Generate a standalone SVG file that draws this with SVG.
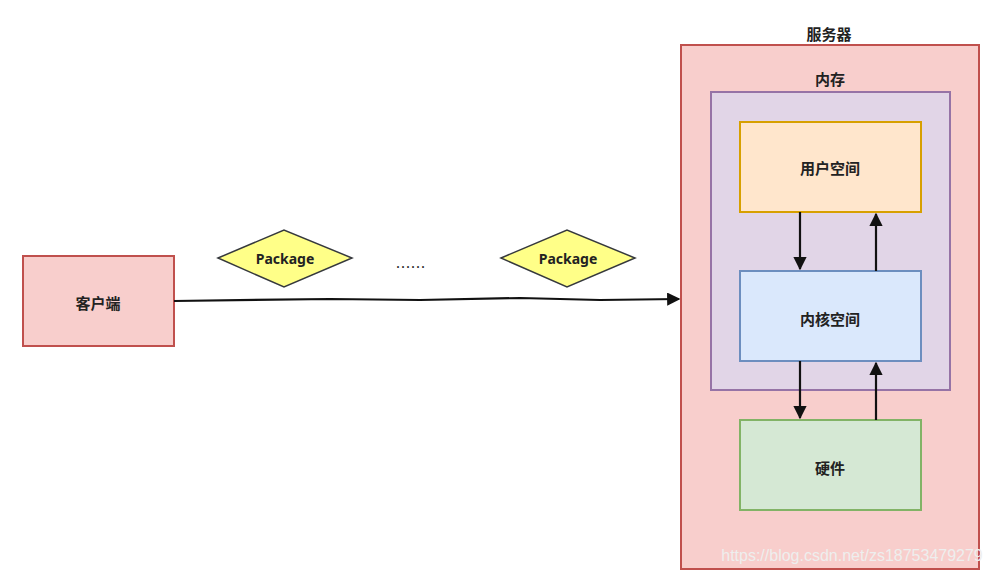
<svg xmlns="http://www.w3.org/2000/svg" width="993" height="578" viewBox="0 0 993 578">
<style>
.lbl{font-family:"Noto Sans CJK SC","Noto Sans",sans-serif;font-size:15px;font-weight:bold;fill:#222;text-anchor:middle;dominant-baseline:central}
.pkg{font-family:"Noto Sans","DejaVu Sans",sans-serif;font-size:14px;font-weight:bold;fill:#222;text-anchor:middle;dominant-baseline:central}
.box{stroke-width:2}
.edge{stroke:#111;stroke-width:2.2;fill:none}
</style>
<defs>
<marker id="ah" viewBox="0 0 10 10" refX="9" refY="5" markerWidth="6" markerHeight="6" orient="auto" markerUnits="strokeWidth">
<path d="M0,0 L10,5 L0,10 z" fill="#111"/>
</marker>
</defs>
<rect width="993" height="578" fill="#fff"/>
<g id="server">
<rect class="box" x="681" y="45" width="298" height="524" fill="#f8cecc" stroke="#c0504d"/>
<text class="lbl" x="829" y="33">服务器</text>
</g>
<g id="memory">
<rect class="box" x="711" y="92" width="239" height="298" fill="#e1d5e7" stroke="#9673a6"/>
<text class="lbl" x="830" y="78">内存</text>
</g>
<g id="userspace">
<rect class="box" x="740" y="122" width="181" height="90" fill="#ffe6cc" stroke="#d7a000"/>
<text class="lbl" x="830" y="167">用户空间</text>
</g>
<g id="kernel">
<rect class="box" x="740" y="271" width="181" height="90" fill="#dae8fc" stroke="#6c8ebf"/>
<text class="lbl" x="830" y="318">内核空间</text>
</g>
<g id="hardware">
<rect class="box" x="740" y="420" width="181" height="90" fill="#d5e8d4" stroke="#82b366"/>
<text class="lbl" x="830" y="467">硬件</text>
</g>
<g id="client">
<rect class="box" x="23" y="256" width="151" height="90" fill="#f8cecc" stroke="#c0504d"/>
<text class="lbl" x="98" y="302">客户端</text>
</g>
<g id="package1">
<polygon points="218,258 284,230 352,258 284,287" fill="#ffff88" stroke="#36393d" stroke-width="1.5"/>
<text class="pkg" x="285" y="258">Package</text>
</g>
<g id="package2">
<polygon points="501,258 567,230 635,258 567,287" fill="#ffff88" stroke="#36393d" stroke-width="1.5"/>
<text class="pkg" x="568" y="258">Package</text>
</g>
<g id="dots">
<text class="pkg" x="411" y="262" style="font-weight:normal;font-size:15px;letter-spacing:1px">......</text>
</g>
<g id="connectors">
<path class="edge" d="M174,301 L330,299 L420,300 L520,298 L600,300 L679,299" marker-end="url(#ah)"/>
<path class="edge" d="M800,212 L800,269" marker-end="url(#ah)"/>
<path class="edge" d="M876,271 L876,214" marker-end="url(#ah)"/>
<path class="edge" d="M800,361 L800,418" marker-end="url(#ah)"/>
<path class="edge" d="M876,420 L876,363" marker-end="url(#ah)"/>
</g>
<text x="852" y="561" style="font-family:'Liberation Sans',sans-serif;font-size:16px;fill:#eeeeee;text-anchor:middle">https://blog.csdn.net/zs18753479279</text>
</svg>
